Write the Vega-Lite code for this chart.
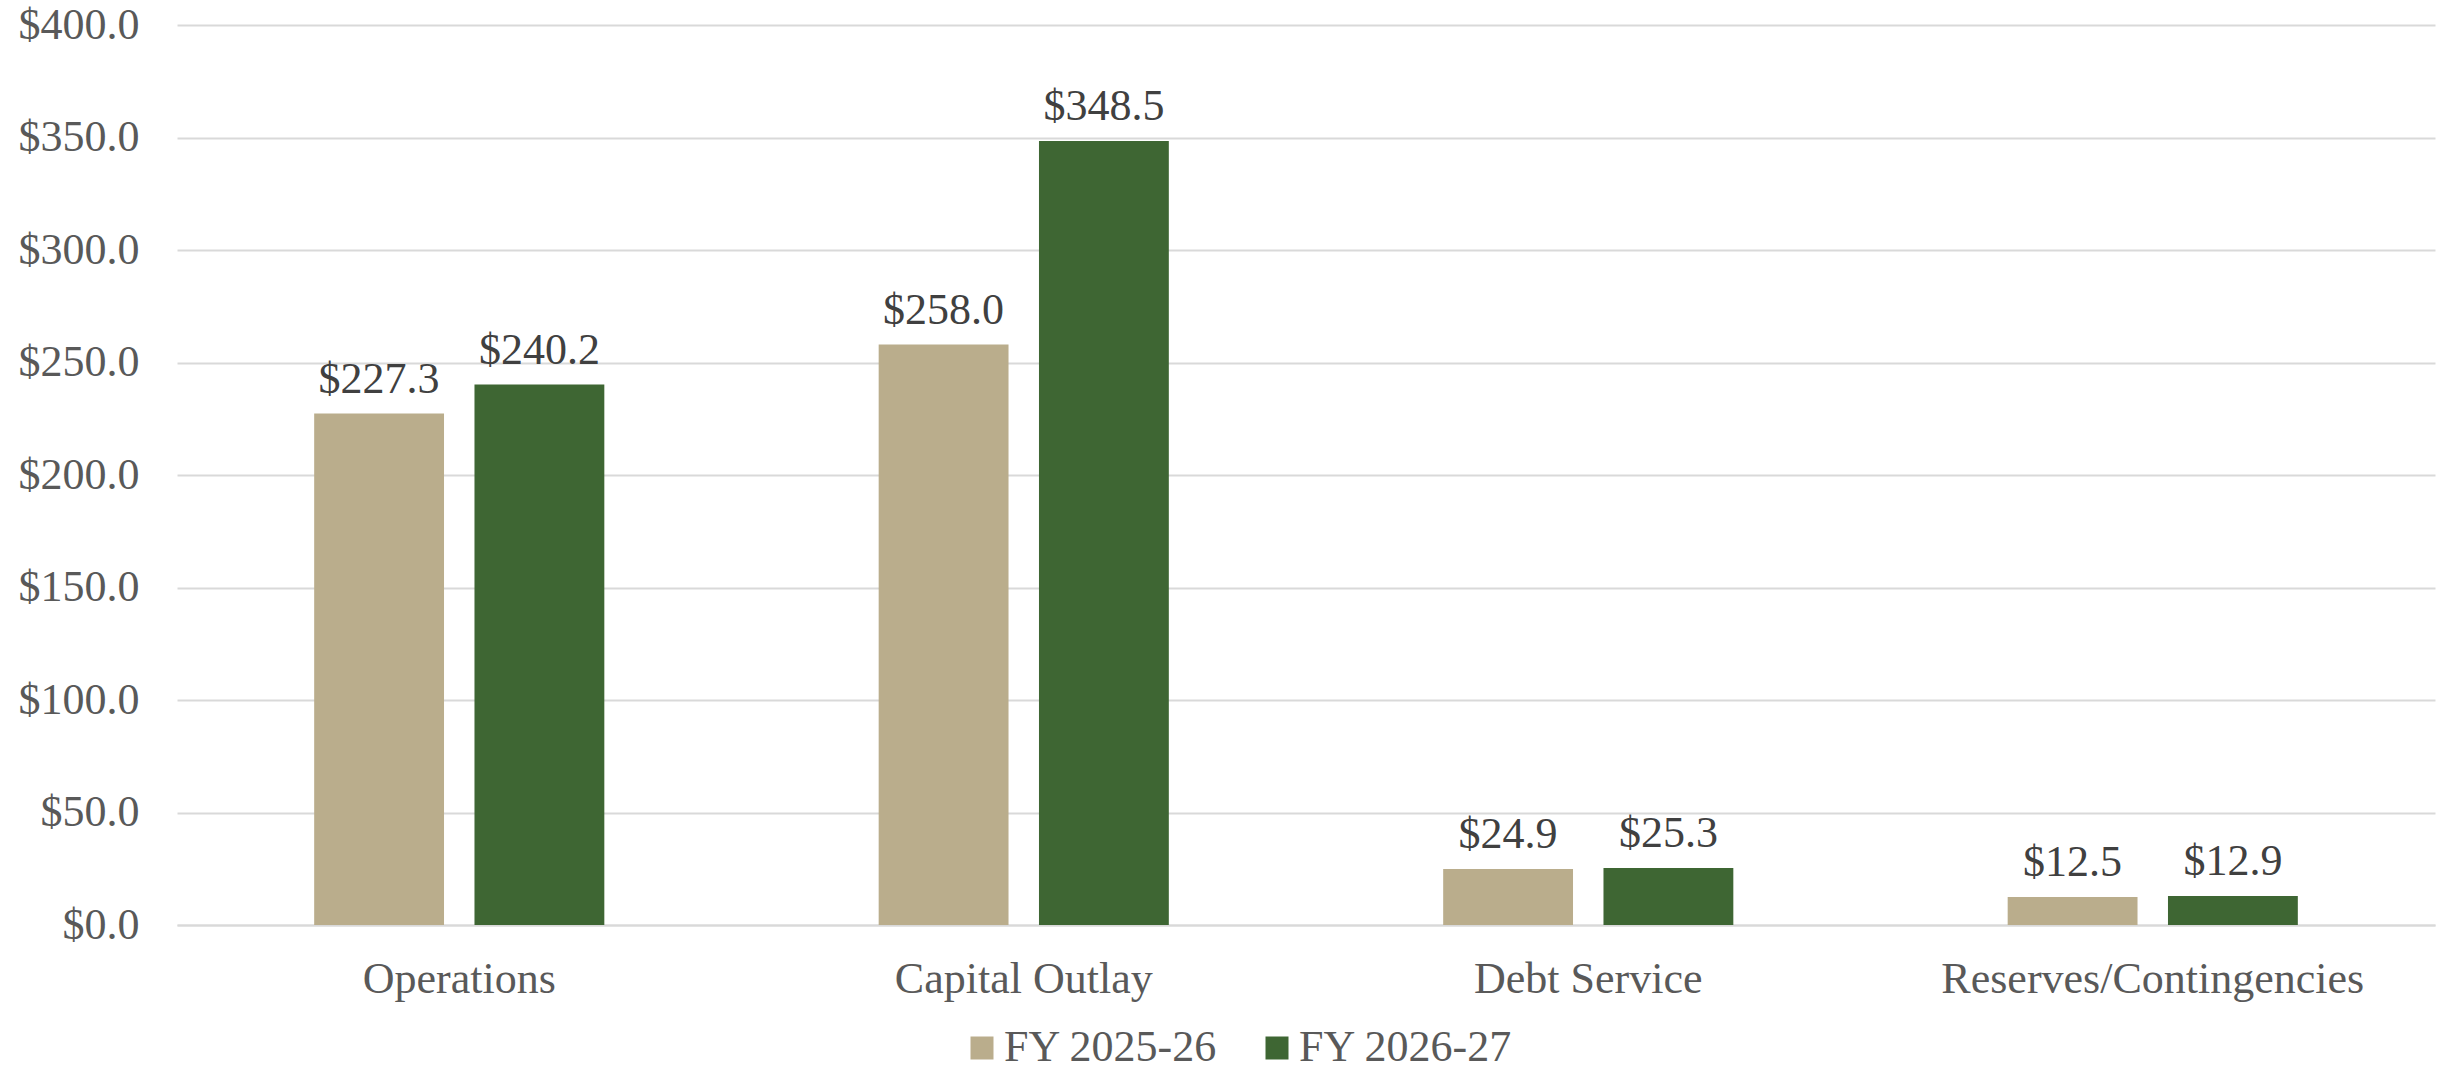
{
  "$schema": "https://vega.github.io/schema/vega-lite/v6.json",
  "autosize": "none",
  "width": 2258,
  "height": 900,
  "padding": {"left": 177, "top": 25, "right": 20, "bottom": 146},
  "background": "white",
  "config": {
    "font": "Liberation Serif",
    "view": {"stroke": null}
  },
  "data": {
    "values": [
      {"category": "Operations", "year": "FY 2025-26", "value": 227.3},
      {"category": "Operations", "year": "FY 2026-27", "value": 240.2},
      {"category": "Capital Outlay", "year": "FY 2025-26", "value": 258.0},
      {"category": "Capital Outlay", "year": "FY 2026-27", "value": 348.5},
      {"category": "Debt Service", "year": "FY 2025-26", "value": 24.9},
      {"category": "Debt Service", "year": "FY 2026-27", "value": 25.3},
      {"category": "Reserves/Contingencies", "year": "FY 2025-26", "value": 12.5},
      {"category": "Reserves/Contingencies", "year": "FY 2026-27", "value": 12.9}
    ]
  },
  "encoding": {
    "x": {
      "field": "category",
      "type": "nominal",
      "sort": ["Operations", "Capital Outlay", "Debt Service", "Reserves/Contingencies"],
      "scale": {"paddingInner": 0.486, "paddingOuter": 0.243},
      "axis": {
        "title": null,
        "labelAngle": 0,
        "labelFontSize": 44,
        "labelColor": "#595959",
        "labelPadding": 32,
        "labelLimit": 0,
        "ticks": false,
        "domainColor": "#d9d9d9",
        "domainWidth": 2,
        "grid": false
      }
    },
    "xOffset": {
      "field": "year",
      "type": "nominal",
      "scale": {"paddingInner": 0.19, "paddingOuter": 0}
    },
    "y": {
      "field": "value",
      "type": "quantitative",
      "scale": {"domain": [0, 400]},
      "axis": {
        "title": null,
        "values": [0, 50, 100, 150, 200, 250, 300, 350, 400],
        "format": "$,.1f",
        "labelFontSize": 44,
        "labelColor": "#595959",
        "labelPadding": 38,
        "labelLimit": 0,
        "ticks": false,
        "domain": false,
        "gridColor": "#d9d9d9",
        "gridWidth": 2
      }
    }
  },
  "layer": [
    {
      "mark": {"type": "bar"},
      "encoding": {
        "color": {
          "field": "year",
          "type": "nominal",
          "scale": {"domain": ["FY 2025-26", "FY 2026-27"], "range": ["#BAAD8C", "#3E6633"]},
          "legend": {
            "title": null,
            "orient": "none",
            "direction": "horizontal",
            "legendX": 783,
            "legendY": 1001,
            "symbolType": "square",
            "symbolSize": 529,
            "symbolStrokeWidth": 0,
            "labelFontSize": 44,
            "labelColor": "#595959",
            "labelOffset": 0,
            "labelLimit": 0,
            "columnPadding": 37
          }
        }
      }
    },
    {
      "mark": {"type": "text", "baseline": "bottom", "dy": -12, "fontSize": 44, "color": "#404040"},
      "encoding": {
        "text": {"field": "value", "type": "quantitative", "format": "$,.1f"}
      }
    }
  ]
}
